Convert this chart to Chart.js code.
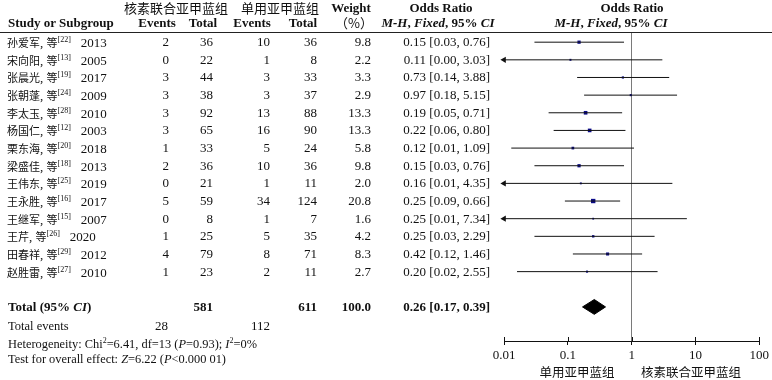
<!DOCTYPE html>
<html><head><meta charset="utf-8">
<script src="https://cdn.jsdelivr.net/npm/chart.js@4.4.0/dist/chart.umd.min.js"></script>
<style>
html,body{margin:0;padding:0;background:#fff;}
#wrap{position:relative;width:772px;height:380px;overflow:hidden;font-family:"Liberation Serif","Noto Sans CJK SC",serif;font-size:13px;color:#111;}
#c{position:absolute;left:0;top:0;}
.t{position:absolute;white-space:nowrap;height:18px;line-height:18px;}
.cj{font-family:"Noto Sans CJK SC",sans-serif;}
.b{font-weight:bold;}
sup{font-size:8px;line-height:0;vertical-align:5px;}
#hline{position:absolute;left:0;top:32px;width:772px;height:1px;background:#222;}
</style></head><body>
<div id="wrap"><div id="hline"></div><canvas id="c" width="772" height="380"></canvas></div>
<script>
// ---- data ----
const studies = ["孙爱军","宋向阳","张晨光","张朝蓬","李太玉","杨国仁","栗东海","梁盛佳","王伟东","王永胜","王继军","王芹","田春祥","赵胜雷"];
const refs = [22,13,19,24,28,12,20,18,25,16,15,26,29,27];
const years = [2013,2005,2017,2009,2010,2003,2018,2013,2019,2017,2007,2020,2012,2010];
const eventsCombined = [2,0,3,3,3,3,1,2,0,5,0,1,4,1];
const totalCombined = [36,22,44,38,92,65,33,36,21,59,8,25,79,23];
const eventsSingle = [10,1,3,3,13,16,5,10,1,34,1,5,8,2];
const totalSingle = [36,8,33,37,88,90,24,36,11,124,7,35,71,11];
const weights = [9.8,2.2,3.3,2.9,13.3,13.3,5.8,9.8,2.0,20.8,1.6,4.2,8.3,2.7];
const oddsRatios = [0.15,0.11,0.73,0.97,0.19,0.22,0.12,0.15,0.16,0.25,0.25,0.25,0.42,0.20];
const ciLower = [0.03,0.004,0.14,0.18,0.05,0.06,0.013,0.03,0.006,0.09,0.008,0.03,0.12,0.016];
const ciUpper = [0.76,3.03,3.88,5.15,0.71,0.80,1.09,0.76,4.35,0.66,7.34,2.29,1.46,2.55];
const pooledOR = 0.26, pooledLower = 0.17, pooledUpper = 0.39;
const pooledTotals = [581, 611];
const pooledEvents = [28, 112];
const pooledWeight = "100.0";
const heterogeneity = {chi2: "6.41", df: 13, p: "0.93", i2: "0%"};
const overall = {z: "6.22", p: "&lt;0.000 01"};
const tickValues = [0.01, 0.1, 1, 10, 100];
const tickLabels = ["0.01", "0.1", "1", "10", "100"];
const groupNames = ["核素联合亚甲蓝组", "单用亚甲蓝组"];
// ---------------------------------------

const AXMIN = 0.01;
const totalRow = studies.length + 1;
const datasets = [];
studies.forEach((s, i) => {
  datasets.push({type:'scatter', showLine:true, data:[{x:Math.max(ciLower[i],AXMIN), y:i},{x:ciUpper[i], y:i}],
    borderColor:'#111', borderWidth:1, pointRadius:0, clip:false});
});
datasets.push({type:'scatter', data: studies.map((s,i)=> ciLower[i] < AXMIN ? {x:AXMIN, y:i} : null).filter(Boolean),
  pointStyle:'triangle', pointRotation:-90, pointRadius:3.6, backgroundColor:'#111', borderColor:'#111', borderWidth:0, clip:false});
datasets.push({type:'scatter', data: studies.map((s,i)=>({x:oddsRatios[i], y:i})),
  pointStyle:'rect', pointRadius: ctx => (0.8 + 0.78*Math.sqrt(weights[ctx.dataIndex] || 1)) / Math.SQRT2,
  backgroundColor:'#0a0a8a', borderColor:'#0a0a8a', borderWidth:0, clip:false});
const dh = 0.42;
datasets.push({type:'scatter', showLine:true, data:[
  {x:pooledLower, y:totalRow},{x:pooledOR, y:totalRow-dh},{x:pooledUpper, y:totalRow},{x:pooledOR, y:totalRow+dh},{x:pooledLower, y:totalRow}],
  fill:'shape', backgroundColor:'#000', borderColor:'#000', borderWidth:1, pointRadius:0, tension:0, clip:false});

const upTicks = {id:'upTicks', afterDraw(chart){
  const xs = chart.scales.x, ctx = chart.ctx, b = chart.chartArea.bottom;
  ctx.save(); ctx.strokeStyle='#111'; ctx.lineWidth=1;
  tickValues.forEach(v=>{const px=Math.round(xs.getPixelForValue(v))+0.5; ctx.beginPath(); ctx.moveTo(px,b-4); ctx.lineTo(px,b); ctx.stroke();});
  ctx.restore();
}};

const chart = new Chart(document.getElementById('c'), {
  type:'scatter',
  data:{datasets},
  plugins:[upTicks],
  options:{
    responsive:false, animation:false, devicePixelRatio:1,
    layout:{padding:{left:504, right:12, top:33, bottom:13}},
    plugins:{legend:{display:false}, tooltip:{enabled:false}},
    scales:{
      x:{type:'logarithmic', min:0.01, max:100, position:'bottom',
        afterBuildTicks: s => { s.ticks = tickValues.map(v=>({value:v})); },
        afterFit: s => { s.height = 26; },
        ticks:{callback:(v,i)=>tickLabels[i], autoSkip:false, maxRotation:0, padding:3, color:'#111',
          font:{family:'Liberation Serif', size:13}},
        grid:{drawOnChartArea:true, color:c => (c.tick && c.tick.value===1) ? '#7a7a7a' : 'rgba(0,0,0,0)',
          tickColor:'#111', tickLength:4, lineWidth:1},
        border:{display:true, color:'#111', width:1}
      },
      y:{type:'linear', min:-0.52, max:16.93, reverse:true, display:false}
    }
  }
});

// ---- table text ----
const wrap = document.getElementById('wrap');
function put(html, x, yc, align, cls, extra){
  const d = document.createElement('div');
  d.className = 't' + (cls ? ' ' + cls : '');
  d.innerHTML = html;
  d.style.top = (yc - 9) + 'px';
  if (align === 'r') { d.style.left = (x - 300) + 'px'; d.style.width = '300px'; d.style.textAlign = 'right'; }
  else if (align === 'c') { d.style.left = (x - 200) + 'px'; d.style.width = '400px'; d.style.textAlign = 'center'; }
  else { d.style.left = x + 'px'; }
  if (extra) d.setAttribute('style', d.getAttribute('style') + ';' + extra);
  wrap.appendChild(d);
}
const ys = chart.scales.y;
const f2 = v => v.toFixed(2);
const ciText = (o,l,h) => `${f2(o)} [${f2(l)}, ${f2(h)}]`;
const mh = '<i>M-H</i>, <i>Fixed</i>, 95% <i>CI</i>';

// headers
put(groupNames[0], 176, 8, 'c', 'cj');
put(groupNames[1], 280, 8, 'c', 'cj');
put('Weight', 351, 8, 'c', 'b');
put('（%）', 373, 23, 'r', 'cj');
put('Odds Ratio', 441, 8, 'c', 'b');
put(mh, 438, 23, 'c', 'b');
put('Odds Ratio', 632, 8, 'c', 'b');
put(mh, 611, 23, 'c', 'b');
put('Study or Subgroup', 8, 23, 'l', 'b');
put('Events', 157, 23, 'c', 'b');
put('Total', 203, 23, 'c', 'b');
put('Events', 252, 23, 'c', 'b');
put('Total', 303, 23, 'c', 'b');

// study rows
studies.forEach((s, i) => {
  const y = ys.getPixelForValue(i);
  put(`<span class="cj" style="font-size:11px">${s}</span>, <span class="cj" style="font-size:11px">等</span><sup>[${refs[i]}]</sup><span style="padding-left:10px">${years[i]}</span>`, 7, y, 'l');
  put(eventsCombined[i], 169, y, 'r');
  put(totalCombined[i], 213, y, 'r');
  put(eventsSingle[i], 270, y, 'r');
  put(totalSingle[i], 317, y, 'r');
  put(weights[i].toFixed(1), 371, y, 'r');
  put(ciText(oddsRatios[i], ciLower[i], ciUpper[i]), 490, y, 'r');
});

// totals
const yt = ys.getPixelForValue(totalRow);
put('Total (95% <i>CI</i>)', 8, yt, 'l', 'b');
put(pooledTotals[0], 213, yt, 'r', 'b');
put(pooledTotals[1], 317, yt, 'r', 'b');
put(pooledWeight, 371, yt, 'r', 'b');
put(ciText(pooledOR, pooledLower, pooledUpper), 490, yt, 'r', 'b');
put('Total events', 8, 326, 'l', '', 'font-size:12.5px');
put(pooledEvents[0], 168, 326, 'r');
put(pooledEvents[1], 270, 326, 'r');
put(`Heterogeneity: Chi<sup>2</sup>=${heterogeneity.chi2}, df=${heterogeneity.df} (<i>P</i>=${heterogeneity.p}); <i>I</i><sup>2</sup>=${heterogeneity.i2}`, 8, 344, 'l', '', 'font-size:12.4px');
put(`Test for overall effect: <i>Z</i>=${overall.z} (<i>P</i>${overall.p})`, 8, 359, 'l', '', 'font-size:12.4px');

// favour labels under the axis
put(groupNames[1], 577, 372, 'c', 'cj', 'font-size:12.5px');
put(groupNames[0], 691, 372, 'c', 'cj', 'font-size:12.5px');
</script>
</body></html>
